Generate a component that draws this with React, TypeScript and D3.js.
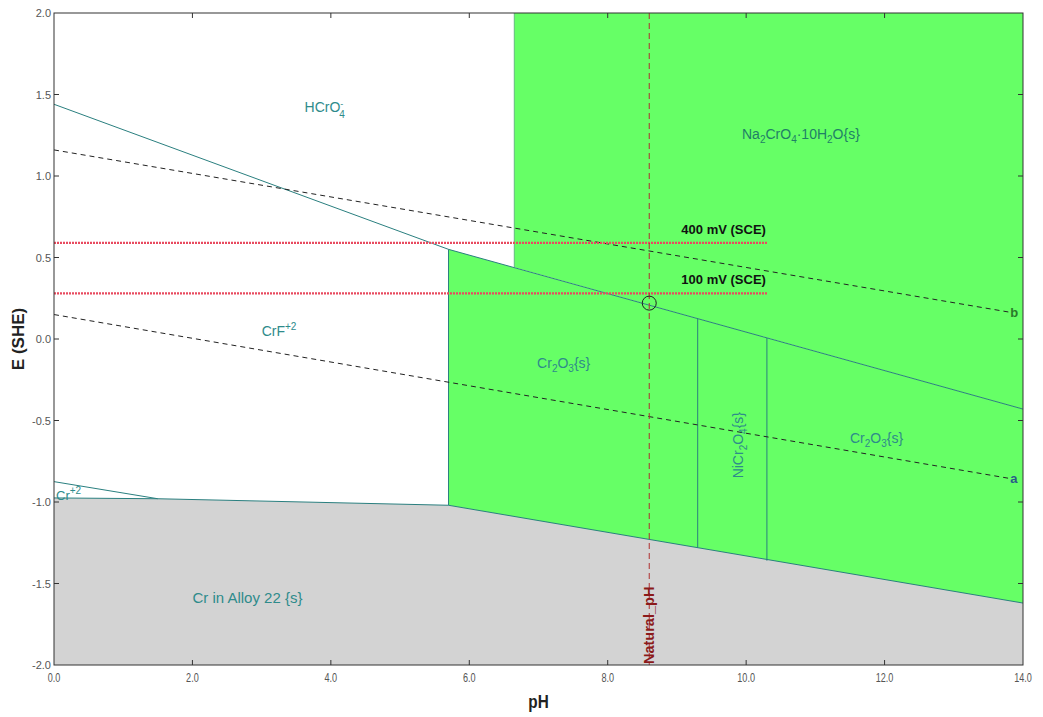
import * as d3 from 'd3';

type Pt = [number, number];

// phase boundaries (pH, E vs SHE)
const crBoundary: Pt[] = [[0, -0.975], [1.5, -0.98], [5.7, -1.02], [14, -1.62]];
const cr2Upper: Pt[] = [[0, -0.875], [1.5, -0.98]];
const hcro4Boundary: Pt[] = [[0, 1.44], [5.7, 0.55]];
const cr2o3Upper: Pt[] = [[5.7, 0.55], [14, -0.43]];
const naRegion: Pt[] = [[6.65, 2], [14, 2], [14, -0.43], [6.65, 0.44]];
const cr2o3Region: Pt[] = [[5.7, 0.55], [14, -0.43], [14, -1.62], [5.7, -1.02]];
const verticals: [number, number, number][] = [
  [5.7, 0.55, -1.02],
  [9.3, 0.125, -1.28],
  [10.3, 0.007, -1.36],
];
const waterA: Pt[] = [[0, 0.15], [13.8, -0.855]];
const waterB: Pt[] = [[0, 1.16], [13.8, 0.165]];
const naturalPH = 8.6;
const sceLines = [
  { label: '400 mV (SCE)', E: 0.59 },
  { label: '100 mV (SCE)', E: 0.28 },
];
const sceMaxPH = 10.3;
const marker: Pt = [8.6, 0.22];

const xTicks = [0, 2, 4, 6, 8, 10, 12, 14];
const yTicks = [-2, -1.5, -1, -0.5, 0, 0.5, 1, 1.5, 2];

const teal = '#2e8b8b';
const lineCol = '#2a7f7f';

function App() {
  const width = 1043;
  const height = 717;
  const left = 54, right = 1023, top = 13, bottom = 665;
  const x = d3.scaleLinear([0, 14], [left, right]);
  const y = d3.scaleLinear([-2, 2], [bottom, top]);
  const line = d3.line<Pt>().x(d => x(d[0])).y(d => y(d[1]));
  const poly = (pts: Pt[]) => (line(pts) ?? '') + 'Z';

  const grayPoly: Pt[] = [[0, -2], ...crBoundary, [14, -2]];

  const sub = (t: string) => <tspan dy={4} fontSize="10">{t}</tspan>;
  const back = (t: string) => <tspan dy={-4}>{t}</tspan>;

  return (
    <div style={{ position: 'absolute', left: 0, top: 0 }}>
      <svg width={width} height={height} style={{ display: 'block', background: '#fff' }}>
        <rect x={left} y={top} width={right - left} height={bottom - top} fill="#fff" />
        <path d={poly(grayPoly)} fill="#d3d3d3" />
        <path d={poly(cr2o3Region)} fill="#66ff66" />
        <path d={poly(naRegion)} fill="#66ff66" />
        <line x1={x(naRegion[0][0])} x2={x(naRegion[0][0])} y1={y(2)} y2={y(naRegion[3][1])} stroke="#55aa77" strokeWidth={0.8} />

        {/* boundaries */}
        <g fill="none" stroke={lineCol} strokeWidth={1}>
          <path d={line(crBoundary) ?? ''} />
          <path d={line(cr2Upper) ?? ''} />
          <path d={line(hcro4Boundary) ?? ''} />
          <path d={line(cr2o3Upper) ?? ''} />
          {verticals.map(([p, e1, e2], i) => (
            <line key={i} x1={x(p)} x2={x(p)} y1={y(e1)} y2={y(e2)} />
          ))}
        </g>

        {/* water lines */}
        <g fill="none" stroke="#222" strokeWidth={1} strokeDasharray="5,4">
          <path d={line(waterA) ?? ''} />
          <path d={line(waterB) ?? ''} />
        </g>
        <text x={x(waterB[1][0]) + 1} y={y(waterB[1][1]) + 5} fontFamily="Liberation Sans" fontWeight="bold" fontSize="13" fill="#2a7a2a">b</text>
        <text x={x(waterA[1][0]) + 1} y={y(waterA[1][1]) + 5} fontFamily="Liberation Sans" fontWeight="bold" fontSize="13" fill="#2a5a8a">a</text>

        {/* SCE potentials */}
        {sceLines.map(s => (
          <g key={s.label}>
            <line x1={x(0)} x2={x(sceMaxPH)} y1={y(s.E)} y2={y(s.E)} stroke="#e84a5f" strokeWidth={2.2} strokeDasharray="2,1" />
            <text x={x(sceMaxPH) - 1} y={y(s.E) - 9} textAnchor="end" fontFamily="Liberation Sans" fontWeight="bold" fontSize="13" fill="#111">{s.label}</text>
          </g>
        ))}

        {/* natural pH */}
        <line x1={x(naturalPH)} x2={x(naturalPH)} y1={top} y2={bottom} stroke="#b03030" strokeWidth={1} strokeDasharray="6,4" />
        <text transform={`translate(${x(naturalPH) + 5},${bottom - 1}) rotate(-90)`} fontFamily="Liberation Sans" fontWeight="bold" fontSize="14.5" fill="#8b1a1a">Natural_pH</text>
        <circle cx={x(marker[0])} cy={y(marker[1])} r={7} fill="none" stroke="#222" strokeWidth={1} />

        {/* region labels */}
        <g fontFamily="Liberation Sans" fontSize="14" fill={teal}>
          <text x={x(3.62)} y={y(1.39)}>HCrO<tspan dy={-5} fontSize="9">-</tspan><tspan dy={11} dx={-4} fontSize="10">4</tspan></text>
          <text x={x(9.94)} y={y(1.23)} fill="#1f7f66">Na{sub('2')}{back('CrO')}{sub('4')}{back('·10H')}{sub('2')}{back('O{s}')}</text>
          <text x={x(6.98)} y={y(-0.18)}>Cr{sub('2')}{back('O')}{sub('3')}{back('{s}')}</text>
          <text x={x(3.0)} y={y(0.02)}>CrF<tspan dy={-6} fontSize="10">+2</tspan></text>
          <text transform={`translate(${x(9.96)},${y(-0.855)}) rotate(-90)`}>NiCr{sub('2')}{back('O')}{sub('4')}{back('{s}')}</text>
          <text x={x(11.5)} y={y(-0.64)}>Cr{sub('2')}{back('O')}{sub('3')}{back('{s}')}</text>
          <text x={x(0.03)} y={y(-0.99)} fontSize="13">Cr<tspan dy={-6} fontSize="10">+2</tspan></text>
          <text x={x(2.0)} y={y(-1.62)} fontSize="15">Cr in Alloy 22 {'{s}'}</text>
        </g>

        {/* frame & ticks */}
        <rect x={left} y={top} width={right - left} height={bottom - top} fill="none" stroke="#333" strokeWidth={1} />
        <g stroke="#333" strokeWidth={1}>
          {xTicks.slice(1, -1).map(t => (
            <g key={t}>
              <line x1={x(t)} x2={x(t)} y1={bottom} y2={bottom - 5} />
              <line x1={x(t)} x2={x(t)} y1={top} y2={top + 5} />
            </g>
          ))}
          {yTicks.slice(1, -1).map(t => (
            <g key={t}>
              <line x1={left} x2={left + 5} y1={y(t)} y2={y(t)} />
              <line x1={right} x2={right - 5} y1={y(t)} y2={y(t)} />
            </g>
          ))}
        </g>
        <g fontFamily="Liberation Sans" fontSize="11" fill="#555">
          {yTicks.map(t => (
            <text key={t} x={left - 3} y={y(t) + 4} textAnchor="end">{t.toFixed(1)}</text>
          ))}
          {xTicks.map(t => (
            <text key={t} transform={`translate(${x(t)},${bottom + 17}) scale(0.7,1)`} textAnchor="middle" fontSize="13">{t.toFixed(1)}</text>
          ))}
        </g>
        <text transform={`translate(${(left + right) / 2},${bottom + 43}) scale(0.85,1)`} textAnchor="middle" fontFamily="Liberation Sans" fontWeight="bold" fontSize="18" fill="#222">pH</text>
        <text transform={`translate(24,${y(0)}) rotate(-90)`} textAnchor="middle" fontFamily="Liberation Sans" fontWeight="bold" fontSize="17" fill="#222">E (SHE)</text>
      </svg>
    </div>
  );
}

export default App;
